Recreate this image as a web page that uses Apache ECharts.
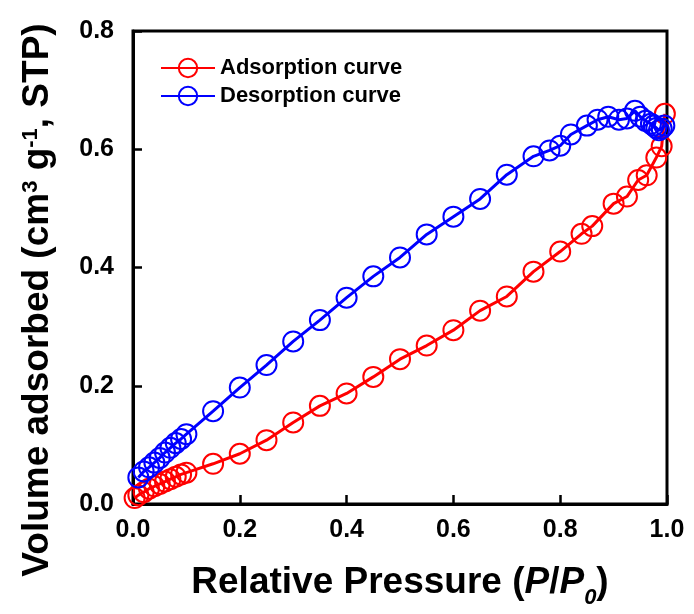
<!DOCTYPE html>
<html>
<head>
<meta charset="utf-8">
<script src="https://cdn.jsdelivr.net/npm/echarts@6/dist/echarts.min.js"></script>
<style>html,body{margin:0;padding:0;background:#fff}#c{width:694px;height:614px}</style>
</head>
<body>
<div id="c"></div>
<script>
var adsX = [0.003,0.01,0.02,0.03,0.04,0.05,0.06,0.07,0.08,0.09,0.1,0.15,0.2,0.25,0.3,0.35,0.4,0.45,0.5,0.55,0.6,0.65,0.7,0.75,0.8,0.84,0.86,0.9,0.925,0.946,0.962,0.98,0.99,0.996];
var adsY = [0.010,0.015,0.020,0.026,0.030,0.034,0.038,0.042,0.046,0.050,0.053,0.068,0.085,0.108,0.138,0.166,0.187,0.215,0.245,0.268,0.294,0.327,0.351,0.393,0.427,0.457,0.470,0.508,0.520,0.548,0.556,0.586,0.605,0.660];
var desX = [0.995,0.99,0.985,0.98,0.975,0.97,0.96,0.95,0.94,0.925,0.91,0.89,0.87,0.85,0.82,0.80,0.78,0.75,0.70,0.65,0.60,0.55,0.50,0.45,0.40,0.35,0.30,0.25,0.20,0.15,0.10,0.09,0.08,0.07,0.06,0.05,0.04,0.03,0.02,0.01];
var desY = [0.640,0.635,0.632,0.636,0.640,0.643,0.648,0.655,0.665,0.652,0.650,0.655,0.650,0.640,0.625,0.606,0.598,0.588,0.557,0.516,0.486,0.456,0.417,0.385,0.349,0.311,0.275,0.235,0.197,0.157,0.118,0.110,0.103,0.095,0.087,0.078,0.070,0.062,0.055,0.045];
var xTicks = [0, 0.2, 0.4, 0.6, 0.8, 1.0];
var yTicks = [0, 0.2, 0.4, 0.6, 0.8];

function pairs(xs, ys){ return xs.map(function(x,i){ return [x, ys[i]]; }); }
var FF = '"Liberation Sans", Arial, sans-serif';
var chart = echarts.init(document.getElementById('c'), null, {renderer:'canvas'});
chart.setOption({
  animation:false,
  backgroundColor:'#fff',
  grid:{left:133, top:31, right:27, bottom:108, show:true, borderColor:'#000', borderWidth:3, backgroundColor:'transparent'},
  legend:{
    orient:'vertical', left:155, top:52, itemWidth:54, itemHeight:23, itemGap:6,
    textStyle:{fontFamily:FF, fontWeight:'bold', fontSize:22, color:'#000'},
    data:['Adsorption curve','Desorption curve']
  },
  graphic:[{
    type:'text', x:38, y:300, rotation:Math.PI/2,
    style:{
      text:'{b|Volume adsorbed (cm}{sup|3}{b| g}{sup|-1}{b|, STP)}',
      align:'center', verticalAlign:'middle',
      rich:{
        b:{fontFamily:FF, fontWeight:'bold', fontSize:37, fill:'#000'},
        sup:{fontFamily:FF, fontWeight:'bold', fontSize:22, fill:'#000', verticalAlign:'top'}
      }
    }
  }],
  xAxis:{
    type:'value', min:xTicks[0], max:xTicks[xTicks.length-1], interval:0.2,
    axisLine:{lineStyle:{color:'#000', width:3}},
    axisTick:{inside:true, length:9, lineStyle:{color:'#000', width:2.5}},
    splitLine:{show:false},
    axisLabel:{margin:14, fontFamily:FF, fontWeight:'bold', fontSize:25, color:'#000', formatter:function(v){return v.toFixed(1);}},
    name:'{b|Relative Pressure (}{i|P}{b|/}{i|P}{sub|0}{b|)}', nameLocation:'middle', nameGap:60,
    nameTextStyle:{rich:{
      b:{fontFamily:FF, fontWeight:'bold', fontSize:37, color:'#000'},
      i:{fontFamily:FF, fontWeight:'bold', fontStyle:'italic', fontSize:37, color:'#000'},
      sub:{fontFamily:FF, fontWeight:'bold', fontStyle:'italic', fontSize:22, color:'#000', verticalAlign:'bottom', padding:[0,0,-8,0]}
    }}
  },
  yAxis:{
    type:'value', min:yTicks[0], max:yTicks[yTicks.length-1], interval:0.2,
    axisLine:{show:true, lineStyle:{color:'#000', width:3}},
    axisTick:{show:true, inside:true, length:9, lineStyle:{color:'#000', width:2.5}},
    splitLine:{show:false},
    axisLabel:{margin:19, fontFamily:FF, fontWeight:'bold', fontSize:25, color:'#000', formatter:function(v){return v.toFixed(1);}}
  },
  series:[
    {name:'Adsorption curve', type:'line', data:pairs(adsX, adsY), symbol:'circle', symbolSize:20,
     lineStyle:{color:'#ff0000', width:3}, itemStyle:{color:'rgba(255,0,0,0)', borderColor:'#ff0000', borderWidth:2}, z:2},
    {name:'Desorption curve', type:'line', data:pairs(desX, desY), symbol:'circle', symbolSize:20,
     lineStyle:{color:'#0000ff', width:3}, itemStyle:{color:'rgba(0,0,255,0)', borderColor:'#0000ff', borderWidth:2}, z:3}
  ]
});
</script>
</body>
</html>
